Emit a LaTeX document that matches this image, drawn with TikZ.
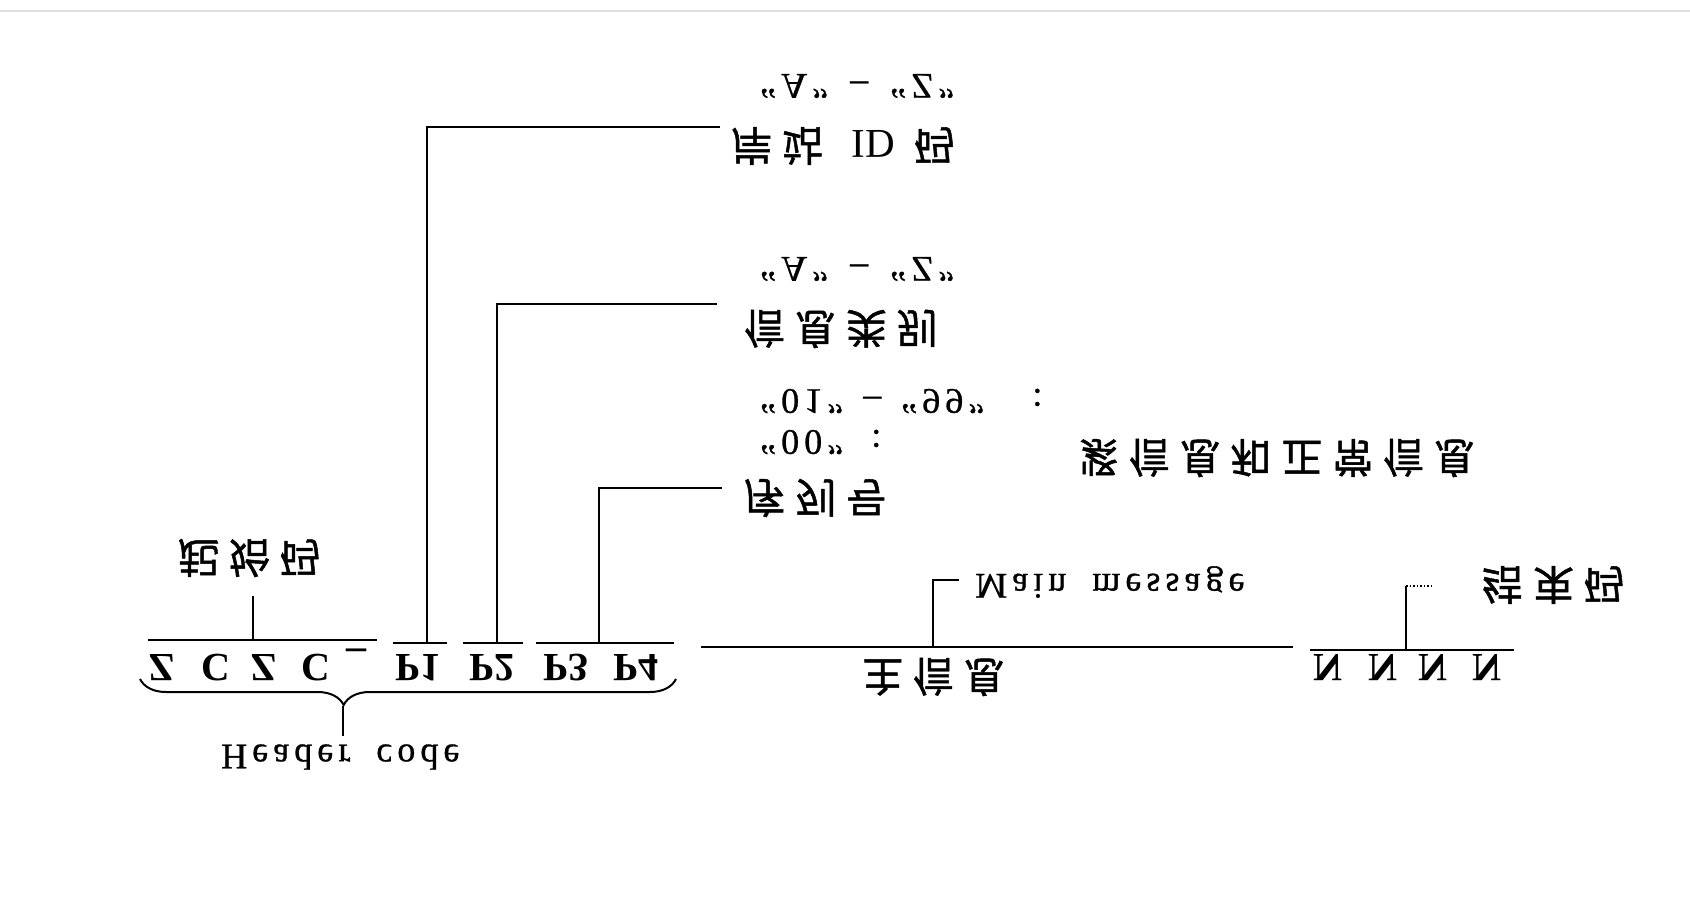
\documentclass[tikz,border=0pt]{standalone}
\usepackage{fontspec}
\setmainfont{Liberation Serif}
\newfontfamily\cjk{Noto Sans CJK SC}[FakeBold=1.2]
\newfontfamily\latsp{Liberation Serif}[LetterSpace=14,FakeBold=0.8]
\usetikzlibrary{calc,decorations.pathreplacing}
\newcommand\zh{\cjk\fontsize{41}{48}\selectfont\addfontfeatures{LetterSpace=24}}
\newcommand\lat{\latsp\fontsize{36}{43}\selectfont}
\newcommand\rowfont{\fontsize{40}{48}\selectfont\bfseries}
\begin{document}
\begin{tikzpicture}[x=1pt,y=1pt,yscale=-1,
 every node/.append style={transform shape},
 wire/.style={line width=2pt},
 lbl/.style={anchor=west,inner sep=0pt},
 ch/.style={inner sep=0pt,text height=27pt,text depth=0pt,font=\rowfont}]
\useasboundingbox (0,0) rectangle (1690,897);
\draw[line width=2pt,black!12] (0,11) -- (1690,11);
% header code row
\node[ch] (z1) at (162,668) {Z};
\node[ch] (c1) at (216,668) {C};
\node[ch] (z2) at (264,668) {Z};
\node[ch] (c2) at (316,668) {C};
\node[ch] (sp) at (356,668) {\_};
\node[ch] (p1) at (418,668) {P1};
\node[ch] (p2) at (492,668) {P2};
\node[ch] (p3) at (566,668) {P3};
\node[ch] (p4) at (636,668) {P4};
\draw[wire] (148,640) -- (377,640);
\draw[wire] (393,643) -- (447,643);
\draw[wire] (463,643) -- (523,643);
\draw[wire] (536,643) -- (674,643);
\coordinate (zs) at (253,640);
\coordinate (s1) at (427,643);
\coordinate (s2) at (497,643);
\coordinate (s3) at (599,643);
% start code
\node[lbl,font=\zh] (lstart) at (178,558) {起始码};
\draw[wire] (zs) -- ++(0,-44);
% P1
\node[lbl,font=\lat] (az1) at (760,86) {“A”\hspace{22pt}–\hspace{22pt}“Z”};
\node[lbl,font=\zh] (lp1) at (731,146) {岸站 \textrm{ID} 码};
\draw[wire] (s1) |- ($(lp1.west)+(-11,-19)$);
% P2
\node[lbl,font=\lat] (az2) at (760,269) {“A”\hspace{22pt}–\hspace{22pt}“Z”};
\node[lbl,font=\zh] (lp2) at (744,329) {信息类别};
\draw[wire] (s2) |- ($(lp2.west)+(-27,-25)$);
% P3 P4
\node[lbl,font=\lat] (n99) at (760,401) {“01”\hspace{20pt}–\hspace{20pt}“99”\hspace{48pt}:};
\node[lbl,font=\lat] (n00) at (760,442) {“00”\hspace{28pt}:};
\node[lbl,font=\zh] (kind) at (1078,458) {紧信息和正常信息};
\node[lbl,font=\zh] (lp3) at (744,498) {序列号};
\draw[wire] (s3) |- ($(lp3.west)+(-22,-10)$);
% brace
\draw[wire,decorate,decoration={brace,mirror,amplitude=26pt,aspect=0.38}] (140,679) -- (676,679);
\coordinate (btip) at (343,706);
\draw[wire] (btip) -- ++(0,30);
\node[lbl,font=\lat] (hdr) at (221,757) {Header\hspace{26pt}code};
% main message
\draw[wire] (701,647) -- (1293,647);
\coordinate (ms) at (933,647);
\node[lbl,font=\lat] (lmain) at (975,582) {Main\hspace{26pt}message};
\draw[wire] (ms) |- ($(lmain.west)+(-16,-2)$);
\node[lbl,font=\zh] (lzhu) at (862,677) {主信息};
% end code
\draw[wire] (1310,650) -- (1514,650);
\node[ch] (n1) at (1328,668) {N};
\node[ch] (n2) at (1383,668) {N};
\node[ch] (n3) at (1433,668) {N};
\node[ch] (n4) at (1487,668) {N};
\coordinate (es) at (1406,650);
\node[lbl,font=\zh] (lend) at (1482,585) {结束码};
\draw[wire] (es) -- ++(0,-64) coordinate (et);
\draw[line width=1.5pt,dotted] (et) -- ++(27,0);
\end{tikzpicture}
\end{document}
